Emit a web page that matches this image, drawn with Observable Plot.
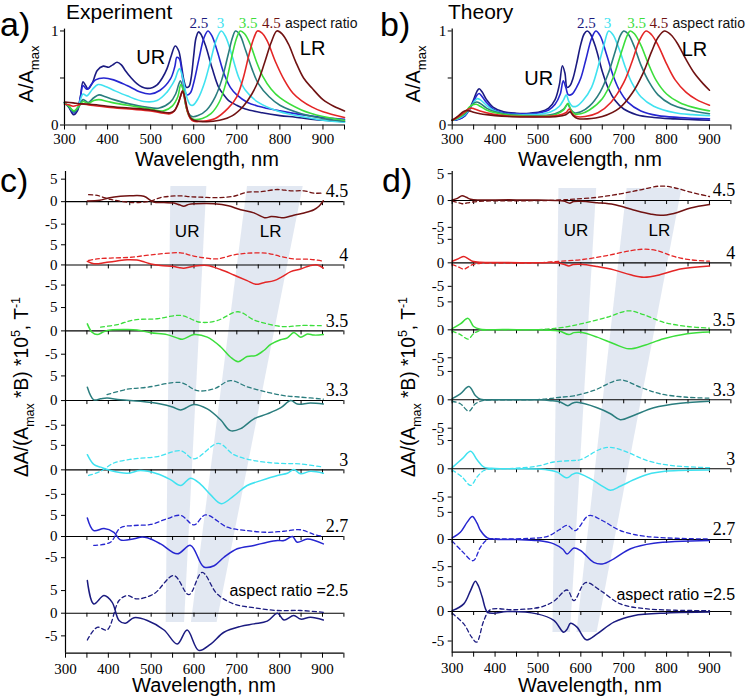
<!DOCTYPE html>
<html><head><meta charset="utf-8">
<script src="https://cdn.jsdelivr.net/npm/d3@7"></script>
<script src="https://cdn.jsdelivr.net/npm/@observablehq/plot@0.6"></script>
<style>
html,body{margin:0;padding:0;background:#fff;}
#fig{position:relative;width:747px;height:696px;overflow:hidden;font-family:"Liberation Sans",Arial,sans-serif;color:#000;background:#fff;}
.lbl{position:absolute;white-space:nowrap;line-height:1;}
#fig svg g[aria-label$="tick label"]{font-family:"Liberation Serif","Times New Roman",serif;font-size:15px;}
#titles{position:absolute;left:0;top:0;pointer-events:none;font-family:"Liberation Sans",Arial,sans-serif;}
</style></head><body><div id="fig"></div><script>
// ---------- categories / ticks ----------
const ratios = ["2.5","2.7","3","3.3","3.5","4","4.5"];
const colors = ["#1b1b80","#2626d0","#40e2f0","#2a7d7e","#3cde3c","#e42626","#701212"];
const xTickValues = [300,350,400,450,500,550,600,650,700,750,800,850,900,950];
const xLabelValues = [300,400,500,600,700,800,900];
const absYTicks = [0,0.5,1];

// ---------- a) experiment absorption ----------
const expA_25 = [[300,0.236],[310,0.19],[321,0.11],[330,0.15],[337,0.3],[343,0.46],[349,0.42],[355,0.385],[365,0.45],[376,0.58],[390,0.626],[403,0.615],[412,0.64],[422,0.668],[432,0.64],[441,0.58],[455,0.5],[468,0.44],[480,0.405],[492,0.39],[505,0.4],[515,0.427],[527,0.5],[538,0.6],[548,0.74],[557,0.84],[565,0.79],[571,0.65],[577,0.48],[583,0.40],[589,0.41],[594,0.5],[600,0.74],[605,0.92],[611,0.99],[616,0.97],[627,0.85],[643,0.6],[658,0.40],[670,0.32],[681,0.26],[700,0.21],[720,0.17],[759,0.13],[800,0.1],[836,0.083],[900,0.05],[950,0.035]];
const expA_27 = [[300,0.236],[310,0.2],[321,0.13],[330,0.17],[337,0.3],[343,0.42],[349,0.39],[354,0.38],[362,0.43],[372,0.48],[391,0.50],[414,0.48],[445,0.42],[476,0.35],[499,0.33],[522,0.37],[546,0.49],[556,0.62],[561,0.72],[567,0.70],[575,0.47],[584,0.32],[592,0.34],[600,0.45],[612,0.7],[624,0.93],[633,1.0],[642,0.95],[655,0.78],[670,0.55],[685,0.4],[700,0.32],[725,0.24],[750,0.2],[800,0.15],[850,0.11],[900,0.08],[950,0.06]];
const expA_3 = [[300,0.236],[310,0.2],[322,0.14],[332,0.2],[343,0.33],[352,0.31],[365,0.38],[378,0.43],[395,0.41],[414,0.37],[445,0.31],[484,0.25],[515,0.26],[538,0.35],[550,0.43],[557,0.49],[563,0.57],[567,0.6],[573,0.53],[579,0.4],[585,0.28],[591,0.22],[598,0.21],[610,0.28],[625,0.45],[640,0.7],[652,0.9],[664,1.0],[675,0.93],[690,0.72],[705,0.5],[720,0.37],[750,0.24],[800,0.14],[850,0.09],[900,0.05],[950,0.03]];
const expA_33 = [[300,0.236],[310,0.2],[322,0.14],[333,0.19],[343,0.27],[355,0.24],[368,0.29],[380,0.32],[395,0.3],[414,0.27],[450,0.225],[490,0.19],[520,0.18],[545,0.24],[558,0.33],[565,0.43],[569,0.47],[575,0.38],[581,0.22],[587,0.13],[596,0.09],[610,0.1],[630,0.16],[650,0.3],[665,0.48],[680,0.75],[690,0.93],[697,1.0],[707,0.96],[720,0.8],[735,0.6],[750,0.44],[775,0.3],[800,0.21],[850,0.12],[900,0.07],[950,0.04]];
const expA_35 = [[300,0.236],[310,0.2],[322,0.15],[333,0.2],[343,0.25],[355,0.23],[368,0.26],[380,0.27],[400,0.25],[420,0.23],[460,0.2],[500,0.17],[530,0.15],[550,0.2],[563,0.3],[570,0.43],[576,0.37],[582,0.2],[590,0.09],[600,0.06],[620,0.07],[640,0.12],[660,0.25],[675,0.45],[690,0.76],[700,0.93],[708,1.0],[718,0.97],[732,0.85],[745,0.68],[760,0.52],[780,0.38],[800,0.29],[850,0.16],[900,0.09],[950,0.05]];
const expA_4 = [[300,0.22],[310,0.215],[320,0.2],[330,0.21],[340,0.225],[360,0.21],[400,0.19],[450,0.17],[500,0.15],[530,0.125],[545,0.12],[555,0.15],[563,0.22],[569,0.3],[574,0.36],[579,0.28],[585,0.15],[592,0.07],[600,0.04],[620,0.04],[650,0.07],[680,0.18],[700,0.3],[715,0.5],[730,0.78],[740,0.93],[748,1.0],[758,0.98],[770,0.9],[790,0.67],[810,0.48],[830,0.34],[850,0.26],[875,0.19],[900,0.14],[950,0.08]];
const expA_45 = [[300,0.245],[320,0.235],[340,0.225],[360,0.22],[400,0.2],[450,0.18],[500,0.16],[530,0.135],[545,0.13],[555,0.15],[563,0.22],[569,0.3],[574,0.36],[579,0.3],[585,0.17],[592,0.08],[600,0.05],[630,0.035],[660,0.05],[690,0.1],[715,0.2],[735,0.33],[750,0.47],[765,0.67],[780,0.88],[793,1.0],[805,0.97],[820,0.86],[836,0.68],[855,0.5],[875,0.39],[900,0.27],[925,0.2],[950,0.15]];
const expAbs = [expA_25, expA_27, expA_3, expA_33, expA_35, expA_4, expA_45];

// ---------- b) theory absorption ----------
const thA_25 = [[300,0.05],[315,0.06],[330,0.1],[340,0.17],[350,0.27],[358,0.36],[363,0.385],[370,0.35],[380,0.27],[395,0.19],[420,0.14],[450,0.125],[480,0.125],[505,0.14],[525,0.18],[540,0.27],[550,0.43],[557,0.63],[563,0.55],[568,0.4],[575,0.42],[582,0.5],[590,0.65],[600,0.86],[608,0.97],[615,1.0],[622,0.97],[635,0.82],[650,0.57],[665,0.38],[680,0.26],[700,0.17],[730,0.11],[770,0.08],[820,0.065],[900,0.05]];
const thA_27 = [[300,0.05],[315,0.06],[330,0.1],[340,0.16],[350,0.25],[358,0.32],[363,0.335],[370,0.3],[380,0.24],[395,0.17],[420,0.13],[450,0.12],[480,0.12],[505,0.13],[525,0.16],[540,0.22],[552,0.33],[559,0.47],[565,0.4],[571,0.32],[580,0.33],[590,0.4],[600,0.5],[612,0.7],[625,0.92],[635,1.0],[645,0.95],[660,0.75],[675,0.53],[690,0.37],[710,0.24],[740,0.15],[780,0.1],[830,0.08],[900,0.065]];
const thA_3 = [[300,0.05],[315,0.07],[330,0.11],[340,0.17],[350,0.24],[358,0.28],[365,0.27],[380,0.21],[395,0.16],[420,0.12],[450,0.11],[480,0.11],[505,0.115],[530,0.14],[550,0.2],[560,0.27],[566,0.32],[572,0.25],[580,0.2],[590,0.2],[605,0.26],[625,0.4],[645,0.7],[655,0.87],[665,1.0],[675,0.96],[690,0.8],[705,0.6],[720,0.44],[740,0.3],[770,0.2],[820,0.13],[860,0.11],[900,0.1]];
const thA_33 = [[300,0.05],[315,0.08],[330,0.12],[340,0.18],[350,0.23],[357,0.245],[365,0.23],[380,0.18],[400,0.14],[430,0.11],[470,0.1],[510,0.1],[540,0.12],[560,0.17],[569,0.22],[576,0.17],[585,0.13],[600,0.14],[620,0.2],[645,0.35],[665,0.56],[680,0.78],[692,0.95],[700,1.0],[710,0.97],[725,0.83],[740,0.64],[760,0.45],[780,0.32],[810,0.22],[850,0.16],[900,0.12]];
const thA_35 = [[300,0.05],[315,0.08],[330,0.13],[340,0.19],[348,0.215],[356,0.22],[365,0.2],[380,0.16],[400,0.13],[430,0.105],[470,0.095],[510,0.095],[540,0.11],[560,0.16],[570,0.23],[577,0.16],[585,0.12],[600,0.12],[620,0.16],[650,0.28],[675,0.5],[695,0.78],[708,0.95],[715,1.0],[725,0.97],[740,0.85],[755,0.68],[775,0.48],[800,0.33],[830,0.24],[860,0.19],[900,0.15]];
const thA_4 = [[300,0.05],[315,0.09],[330,0.14],[338,0.17],[345,0.18],[352,0.17],[365,0.15],[380,0.13],[400,0.11],[430,0.095],[470,0.09],[510,0.09],[545,0.1],[565,0.13],[573,0.17],[580,0.12],[590,0.09],[610,0.09],[640,0.13],[670,0.24],[700,0.45],[720,0.68],[737,0.9],[752,1.0],[765,0.96],[780,0.85],[800,0.65],[820,0.48],[845,0.35],[870,0.27],[900,0.21]];
const thA_45 = [[300,0.05],[315,0.1],[325,0.14],[332,0.155],[340,0.15],[350,0.135],[365,0.12],[380,0.11],[400,0.1],[430,0.09],[470,0.085],[510,0.085],[545,0.09],[565,0.11],[575,0.14],[582,0.1],[592,0.07],[615,0.065],[650,0.09],[690,0.18],[720,0.34],[745,0.55],[765,0.78],[780,0.93],[795,1.0],[810,0.96],[825,0.87],[845,0.7],[865,0.55],[885,0.44],[900,0.37]];
const thAbs = [thA_25, thA_27, thA_3, thA_33, thA_35, thA_4, thA_45];

// ---------- c) experiment MCD (solid S, dashed D) ----------
const cS_25 = [[351,7.2],[366,2.05],[390,3.9],[409,2.4],[425,-1.6],[440,-2.2],[460,-1.0],[491,-1.6],[530,-3.7],[561,-6.8],[584,-3.7],[611,-8.2],[639,-6.8],[670,-4.2],[709,-2.9],[740,-2.35],[771,-1.75],[795,0],[810,-1.5],[833,-0.5],[849,-1.3],[872,-0.9],[902,-1.5]];
const cD_25 = [[351,-5.9],[374,-3.1],[397,-3.7],[425,2.8],[444,3.9],[467,3.15],[506,4.25],[553,8.3],[588,4.1],[619,9.0],[654,4.25],[693,2.05],[740,1.2],[795,0.6],[849,0.6],[902,0.2]];
const cS_27 = [[351,4.4],[366,1.4],[390,1.9],[413,1.0],[428,-0.8],[460,-0.55],[475,-0.15],[491,-0.3],[522,-1.75],[561,-4.1],[592,-2.1],[623,-7.2],[647,-6.9],[670,-4.9],[701,-2.9],[740,-2.1],[771,-1.35],[795,-0.95],[810,-0.95],[830,0],[841,-1.35],[865,-0.6],[902,-1.75]];
const cD_27 = [[366,-2.1],[405,-1.35],[428,2.05],[460,2.6],[499,2.85],[537,4.2],[569,5.0],[600,2.75],[627,5.1],[678,2.2],[724,1.4],[771,1.0],[810,1.25],[849,1.6],[880,0.5],[902,0]];
const cS_3 = [[351,3.1],[366,1.1],[382,0.55],[405,-0.15],[444,-0.7],[475,-0.15],[514,-0.8],[545,-2.0],[569,-3.2],[592,-1.7],[615,-2.9],[639,-5.1],[664,-6.9],[693,-5.3],[724,-3.2],[756,-2.2],[795,-1.15],[818,-0.7],[833,0.05],[849,-0.8],[872,-0.3],[902,-0.7]];
const cD_3 = [[354,-1.15],[382,-0.3],[413,1.4],[460,2.25],[514,2.7],[569,3.9],[600,2.25],[657,5.4],[693,3.1],[740,1.9],[795,1.35],[849,1.2],[902,0.55]];
const cS_33 = [[351,2.7],[366,0.15],[382,0.35],[397,0.5],[428,0.15],[475,-0.15],[522,-0.7],[550,-1.3],[569,-1.9],[600,-0.8],[631,-1.7],[662,-3.9],[685,-6.1],[709,-5.7],[740,-3.7],[771,-2.7],[802,-1.5],[826,0],[841,-0.7],[872,-0.5],[902,-0.7]];
const cD_33 = [[397,1.2],[444,2.3],[491,2.7],[569,3.65],[608,2.0],[647,2.4],[685,4.05],[724,2.8],[771,1.7],[810,1.0],[849,0.7],[902,0.3]];
const cS_35 = [[351,1.5],[362,-0.3],[374,-0.8],[390,-0.15],[405,0.2],[444,0.3],[467,0.2],[499,-0.4],[537,-0.8],[560,-1.5],[573,-1.8],[600,-0.8],[631,-1.35],[662,-3.4],[685,-5.6],[703,-6.6],[724,-5.5],[744,-5.3],[763,-4.2],[779,-2.9],[802,-1.9],[818,-1.5],[833,-0.35],[849,-1.35],[865,-0.65],[880,-0.9],[902,-0.8]];
const cD_35 = [[382,0.8],[421,1.35],[460,2.35],[514,2.6],[569,3.3],[615,1.85],[654,2.2],[703,4.1],[740,2.35],[771,1.5],[810,0.9],[849,1.15],[902,1.1]];
const cS_4 = [[351,0.9],[366,0.3],[380,0.35],[397,0.65],[420,1.0],[444,1.3],[467,1.2],[485,0.7],[499,0.25],[522,-0.15],[553,-0.4],[566,-0.7],[576,-0.8],[590,-0.5],[600,-0.3],[631,-0.15],[662,-1.15],[693,-2.5],[724,-3.9],[744,-4.8],[763,-4.4],[787,-3.9],[806,-2.9],[826,-1.65],[849,-1.0],[872,-0.15],[888,0],[902,-0.8]];
const cD_4 = [[354,1.1],[374,1.5],[405,1.7],[452,1.9],[499,2.5],[569,3.0],[592,2.4],[615,1.9],[654,1.5],[693,2.5],[724,2.9],[771,2.9],[802,2.1],[833,1.5],[872,1.4],[902,0.9]];
const cS_45 = [[351,0.15],[380,0.3],[400,0.8],[428,1.2],[450,1.3],[483,1.2],[506,-0.1],[530,-0.2],[553,-0.3],[566,-0.7],[576,-1.0],[588,-0.6],[600,-0.45],[625,-0.4],[647,-0.45],[680,-0.9],[709,-1.8],[740,-2.5],[767,-3.6],[780,-3.3],[794,-3.4],[810,-3.6],[833,-3.0],[857,-2.5],[880,-1.8],[893,-0.9],[902,0.2]];
const cD_45 = [[354,1.55],[374,1.4],[390,0.9],[405,0.5],[428,0.1],[460,-0.2],[480,-0.1],[499,0.15],[522,0.9],[545,1.2],[569,1.3],[592,1.1],[615,1.0],[654,0.9],[693,1.2],[724,2.1],[756,2.2],[795,2.7],[826,2.4],[857,2.4],[880,1.9],[902,1.9]];
const expSolid = [cS_25, cS_27, cS_3, cS_33, cS_35, cS_4, cS_45];
const expDash = [cD_25, cD_27, cD_3, cD_33, cD_35, cD_4, cD_45];

// ---------- d) theory MCD ----------
const dS_25 = [[300,0.15],[327,1.3],[343,3.6],[354,5.15],[362,4.2],[370,2.45],[382,-0.1],[397,-0.3],[428,0],[498,-0.4],[537,-1.5],[560,-3.5],[568,-3.0],[576,-2.0],[591,-2.65],[613,-4.8],[638,-3.8],[677,-1.8],[723,-0.7],[801,-0.25],[900,-0.1]];
const dD_25 = [[300,-0.3],[327,-2.1],[345,-4.3],[357,-5.2],[374,-1.5],[389,0.3],[444,0.3],[506,0.75],[537,1.75],[568,3.65],[584,1.85],[611,4.9],[646,3.55],[692,1.3],[755,0.45],[900,0.15]];
const dS_27 = [[300,0.3],[319,1.35],[335,3.2],[347,4.25],[358,3.0],[366,1.65],[382,0.3],[400,0.05],[450,0],[500,-0.2],[537,-0.8],[558,-1.8],[568,-2.65],[584,-1.55],[599,-2.0],[630,-4.2],[650,-4.5],[677,-3.55],[716,-1.7],[770,-0.7],[900,-0.2]];
const dD_27 = [[300,-0.3],[323,-2.15],[349,-3.9],[366,-1.4],[382,-0.05],[420,0.1],[480,0.2],[521,0.55],[550,1.8],[568,2.6],[587,1.65],[619,4.4],[650,3.5],[692,1.65],[755,0.55],[900,0.1]];
const dS_3 = [[300,0.2],[323,1.75],[343,3.1],[358,1.6],[374,0.3],[400,0.05],[450,0],[500,-0.05],[530,-0.3],[545,-0.6],[568,-1.6],[580,-1.0],[591,-0.75],[622,-1.75],[654,-3.25],[669,-3.8],[692,-3.1],[723,-1.95],[755,-1.0],[801,-0.4],[900,-0.2]];
const dD_3 = [[300,-0.2],[323,-1.45],[343,-2.95],[358,-1.45],[374,-0.3],[400,-0.05],[450,0.1],[500,0.5],[537,1.2],[576,1.45],[599,1.6],[646,3.5],[669,3.8],[708,2.95],[755,1.45],[809,0.6],[900,0.2]];
const dS_33 = [[300,0.2],[319,1.05],[339,2.35],[354,0.75],[366,0.1],[420,0.03],[500,0],[530,-0.15],[552,-0.4],[570,-1.05],[580,-0.6],[591,-0.45],[638,-1.4],[669,-2.45],[692,-3.5],[723,-2.75],[770,-1.4],[832,-0.6],[900,-0.25]];
const dD_33 = [[300,-0.25],[319,-0.7],[339,-2.0],[354,-0.7],[374,-0.1],[420,0],[500,0.05],[530,0.25],[552,0.45],[584,0.7],[630,1.65],[692,3.5],[739,2.2],[786,1.05],[848,0.45],[900,0.3]];
const dS_35 = [[300,0.2],[319,1.05],[337,2.05],[350,0.6],[366,0.1],[420,0.05],[500,0],[540,-0.1],[552,-0.25],[572,-0.85],[584,-0.5],[600,-0.45],[638,-1.3],[677,-2.5],[712,-3.4],[747,-2.8],[793,-1.6],[848,-0.7],[900,-0.4]];
const dD_35 = [[300,-0.25],[319,-0.85],[337,-1.65],[350,-0.7],[366,-0.1],[420,0],[500,0.05],[530,0.2],[560,0.45],[599,1.05],[661,2.25],[712,3.4],[747,2.7],[793,1.35],[848,0.6],[900,0.3]];
const dS_4 = [[300,0.35],[315,0.9],[327,1.35],[337,0.9],[347,0.35],[366,0.1],[420,0.05],[500,0.03],[545,0],[560,-0.3],[572,-0.65],[582,-0.35],[600,-0.3],[638,-0.8],[677,-1.5],[716,-2.55],[747,-3.05],[786,-2.5],[832,-1.3],[900,-0.65]];
const dD_4 = [[300,-0.35],[315,-0.9],[327,-1.35],[337,-0.9],[347,-0.4],[366,-0.1],[420,-0.05],[500,0],[530,0.2],[552,0.35],[599,0.65],[661,1.55],[716,2.6],[747,2.9],[778,2.6],[817,1.35],[856,0.65],[900,0.35]];
const dS_45 = [[300,0.1],[312,0.4],[323,0.9],[333,0.6],[343,0.25],[360,0.1],[400,0.12],[450,0.12],[500,0.08],[540,0.0],[560,-0.1],[574,-0.5],[583,-0.2],[600,-0.15],[638,-0.4],[677,-0.75],[723,-1.75],[762,-2.5],[786,-2.75],[817,-2.4],[856,-1.4],[900,-0.75]];
const dD_45 = [[300,-0.1],[312,-0.35],[323,-0.6],[335,-0.45],[350,-0.25],[380,-0.1],[450,-0.05],[520,0],[552,0.1],[584,0.25],[638,0.6],[692,1.25],[739,2.0],[786,2.7],[817,2.4],[856,1.55],[900,0.75]];
const thSolid = [dS_25, dS_27, dS_3, dS_33, dS_35, dS_4, dS_45];
const thDash = [dD_25, dD_27, dD_3, dD_33, dD_35, dD_4, dD_45];

// ---------- annotations (data coordinates) ----------
const legendA = [{t:"2.5",x:612,c:colors[0]},{t:"3",x:662,c:colors[2]},{t:"3.5",x:726,c:colors[4]},{t:"4.5",x:780,c:colors[6]}];
const legendB = [{t:"2.5",x:613,c:colors[0]},{t:"3",x:662,c:colors[2]},{t:"3.5",x:730,c:colors[4]},{t:"4.5",x:782,c:colors[6]}];
const annotA = [{t:"UR",x:500,y:0.72},{t:"LR",x:876,y:0.81}];
const annotB = [{t:"UR",x:502,y:0.49},{t:"LR",x:865,y:0.80}];

// ---------- layout: stack offsets and per-sub-panel axis scale of the stacked panels ----------
const offC = [8.79, 25.65, 40.31, 55.54, 70.86, 85.36, 99.27];
const scaleC = [0.996, 0.93, 1.077, 1.084, 1.026, 0.886, 0.989];
const offD = [7.2, 19.95, 32.47, 44.68, 57.07, 68.93, 79.96];
const scaleD = [1.044, 0.962, 1.0, 1.005, 0.99, 0.832, 0.95];
const bandC_UR = [{y:102.6,x1:546,x2:630},{y:6.75,x1:535,x2:578}];
const bandC_LR = [{y:102.6,x1:725,x2:855},{y:6.75,x1:594,x2:654}];
const bandD_UR = [{y:82.1,x1:549,x2:637},{y:3.5,x1:535,x2:576}];
const bandD_LR = [{y:82.1,x1:708,x2:836},{y:3.5,x1:591,x2:638}];

const fig = document.getElementById("fig");
const baseStyle = {background:"transparent", fontFamily:"'Liberation Serif', serif", fontSize:"15px", color:"#000", overflow:"visible"};
const xFmt = d => xLabelValues.includes(d) ? String(d) : "";

function place(svg, left, top) {
  svg.style.position = "absolute";
  svg.style.left = left + "px";
  svg.style.top = top + "px";
  fig.appendChild(svg);
}

function absPanel(series, legend, annot, left, width, ml, mr) {
  const svg = Plot.plot({
    width, height: 175, marginLeft: ml, marginRight: mr, marginTop: 28.6, marginBottom: 50.5,
    x: {domain: [300, 950]}, y: {domain: [0, 1.02]}, color: {type: "identity"},
    style: baseStyle,
    marks: [
      ...series.map((s, i) => Plot.line(s, {x: d => d[0], y: d => d[1], stroke: colors[i], strokeWidth: 1.6, curve: "catmull-rom"})),
      Plot.ruleX([300], {stroke: "#000", strokeWidth: 1.2}),
      Plot.ruleY([0], {stroke: "#000", strokeWidth: 1.2}),
      Plot.axisX({ticks: xTickValues, tickFormat: xFmt, tickSize: 5, tickPadding: 3, label: null}),
      Plot.axisY({ticks: absYTicks, tickFormat: d => d === 0.5 ? "" : String(d), tickSize: 4, tickPadding: 2, label: null}),
      Plot.text(legend, {x: "x", y: () => 1.08, text: "t", fill: "c", fontFamily: "'Liberation Serif', serif", fontSize: 15}),
      Plot.text(legend.slice(-1), {x: d => d.x + 32, y: () => 1.08, text: () => "aspect ratio", textAnchor: "start", fill: "#111", fontFamily: "'Liberation Sans', sans-serif", fontSize: 14}),
      Plot.text(annot, {x: "x", y: "y", text: "t", fill: "#000", fontFamily: "'Liberation Sans', sans-serif", fontSize: 20})
    ]
  });
  place(svg, left, 0);
}

function mcdPanel(solid, dash, offs, scl, yTop, bands, left, width, ml, mr, mb, labelDy2, urlr) {
  const height = 531, mt = 6;
  const pxPerUnit = (height - mt - mb) / yTop;
  const tickLen = 4 / pxPerUnit;
  const yTickVals = offs.flatMap((o, i) => [o - 5 * scl[i], o, o + 5 * scl[i]]);
  const yTickLab = new Map(offs.flatMap((o, i) => [[o - 5 * scl[i], "-5"], [o, "0"], [o + 5 * scl[i], "5"]]));
  const zeroTicks = offs.flatMap(o => xTickValues.map(x => ({x, y: o})));
  const subLabels = ratios.map((r, i) => ({t: r, y: offs[i]})).slice(1);
  const lastLabel = [{t: "aspect ratio =2.5", y: offs[0]}];
  const svg = Plot.plot({
    width, height, marginLeft: ml, marginRight: mr, marginTop: mt, marginBottom: mb,
    x: {domain: [300, 950]}, y: {domain: [0, yTop]},
    style: baseStyle,
    marks: [
      ...bands.map(b => Plot.areaX(b, {y: "y", x1: "x1", x2: "x2", fill: "#dfe6f1", fillOpacity: 0.9})),
      Plot.ruleY(offs, {stroke: "#000", strokeWidth: 1.1}),
      Plot.ruleX(zeroTicks, {x: "x", y1: "y", y2: d => d.y - tickLen, stroke: "#000", strokeWidth: 1}),
      ...dash.map((s, i) => Plot.line(s, {x: d => d[0], y: d => offs[i] + d[1] * scl[i], stroke: colors[i], strokeWidth: 1.3, strokeDasharray: "4,3", curve: "catmull-rom"})),
      ...solid.map((s, i) => Plot.line(s, {x: d => d[0], y: d => offs[i] + d[1] * scl[i], stroke: colors[i], strokeWidth: 1.5, curve: "catmull-rom"})),
      Plot.ruleX([300], {stroke: "#000", strokeWidth: 1.2}),
      Plot.ruleY([0], {stroke: "#000", strokeWidth: 1.2}),
      Plot.axisX({ticks: xTickValues, tickFormat: xFmt, tickSize: 5, tickPadding: 5, label: null}),
      Plot.axisY({ticks: yTickVals, tickFormat: d => yTickLab.get(d), tickSize: 4, tickPadding: 4, label: null}),
      Plot.text(subLabels, {x: () => 960, y: "y", dy: -10, text: "t", textAnchor: "end", fill: "#000", fontFamily: "'Liberation Serif', serif", fontSize: 18}),
      Plot.text(lastLabel, {x: () => 960, y: "y", dy: labelDy2, text: "t", textAnchor: "end", fill: "#000", fontFamily: "'Liberation Sans', sans-serif", fontSize: 16}),
      Plot.text(urlr, {x: "x", y: d => offs[6] + d.y, text: "t", fill: "#000", fontFamily: "'Liberation Sans', sans-serif", fontSize: 17})
    ]
  });
  place(svg, left, 165);
}

absPanel(expAbs, legendA, annotA, 0, 373, 64, 29);
absPanel(thAbs, legendB, annotB, 373, 374, 78.7, 16.6);
mcdPanel(expSolid, expDash, offC, scaleC, 105.9, [bandC_UR, bandC_LR], 0, 373, 65, 29.6, 43.3, -22,
  [{t:"UR",x:584,y:-6.6},{t:"LR",x:779,y:-6.6}]);
mcdPanel(thSolid, thDash, offD, scaleD, 85.1, [bandD_UR, bandD_LR], 373, 374, 78.7, 16.6, 44.3, -17,
  [{t:"UR",x:589,y:-5.4},{t:"LR",x:783,y:-5.4}]);

// ---------- text: panel letters, titles, axis titles ----------
function label(html, left, baseline, fs, center) {
  const d = document.createElement("div");
  d.className = "lbl";
  d.innerHTML = html;
  d.style.fontSize = fs + "px";
  d.style.left = left + "px";
  d.style.top = (baseline - 0.8465 * fs) + "px";
  if (center) d.style.transform = "translateX(-50%)";
  fig.appendChild(d);
}
label("a)", 0, 36, 34);
label("Experiment", 66, 18.5, 21);
label("b)", 380, 36, 34);
label("Theory", 448, 18.5, 21);
label("c)", 0, 192, 34);
label("d)", 382, 192, 34);
label("Wavelength, nm", 207, 166, 20, true);
label("Wavelength, nm", 590, 166, 20, true);
label("Wavelength, nm", 204, 692, 20, true);
label("Wavelength, nm", 590, 692, 20, true);

// rotated y-axis titles (SVG text so sub/superscripts and length are exact)
const NS = "http://www.w3.org/2000/svg";
const tsvg = document.createElementNS(NS, "svg");
tsvg.setAttribute("id", "titles");
tsvg.setAttribute("width", 747);
tsvg.setAttribute("height", 696);
fig.appendChild(tsvg);
function rotTitle(parts, bx, cy, fs, len) {
  const t = document.createElementNS(NS, "text");
  t.setAttribute("transform", `translate(${bx},${cy}) rotate(-90)`);
  t.setAttribute("text-anchor", "middle");
  t.setAttribute("font-size", fs);
  t.setAttribute("fill", "#000");
  if (len) { t.setAttribute("textLength", len); t.setAttribute("lengthAdjust", "spacingAndGlyphs"); }
  for (const [str, kind] of parts) {
    const s = document.createElementNS(NS, "tspan");
    s.textContent = str;
    if (kind === "sub") { s.setAttribute("dy", 0.3 * fs); s.setAttribute("font-size", 0.65 * fs); }
    else if (kind === "sup") { s.setAttribute("dy", -0.42 * fs); s.setAttribute("font-size", 0.65 * fs); }
    else if (kind === "fromSub") s.setAttribute("dy", -0.3 * fs);
    else if (kind === "fromSup") s.setAttribute("dy", 0.42 * fs);
    t.appendChild(s);
  }
  tsvg.appendChild(t);
}
const absTitle = [["A/A"], ["max", "sub"]];
const mcdTitle = [["ΔA/(A"], ["max", "sub"], [" *B) *10", "fromSub"], ["5", "sup"], [", T", "fromSup"], ["-1", "sup"]];
rotTitle(absTitle, 33, 74, 20);
rotTitle(absTitle, 420, 74, 20);
rotTitle(mcdTitle, 28, 387, 20, 180);
rotTitle(mcdTitle, 415, 387, 20, 180);
</script></body></html>
